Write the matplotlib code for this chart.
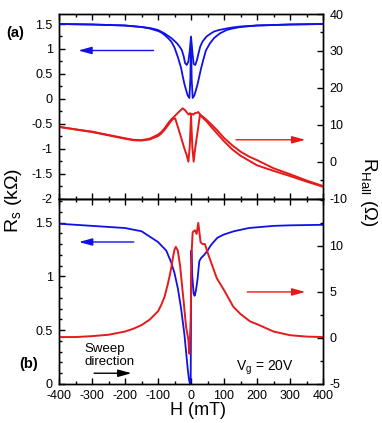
import matplotlib
matplotlib.use('Agg')
import matplotlib.pyplot as plt
from matplotlib.ticker import MultipleLocator

plt.rcParams['font.family'] = ['Liberation Sans', 'DejaVu Sans']
plt.rcParams['mathtext.default'] = 'regular'
plt.rcParams['axes.unicode_minus'] = False

BLUE = '#1010e8'
RED = '#e51a1a'

# ---- panel (a): R_s (kOhm, left) and R_Hall (Ohm, right), two sweep branches ----
h_a_blue1 = [-400, -300, -200, -150, -125, -100, -90, -80, -70, -60, -50, -40, -30, -25, -20, -15,
             -10, -5, -2, 0, 2, 5, 10, 15, 20, 25, 30, 37, 45, 57, 70, 87, 108, 125, 150, 200, 300, 400]
rs_a_blue1 = [1.50, 1.49, 1.47, 1.44, 1.41, 1.36, 1.33, 1.28, 1.22, 1.15, 1.03, 0.84, 0.62, 0.45, 0.30, 0.18,
              0.07, 0.02, 0.40, 1.22, 0.40, 0.02, 0.07, 0.18, 0.30, 0.45, 0.60, 0.78, 0.97, 1.11, 1.22, 1.31, 1.38, 1.41, 1.44, 1.47, 1.49, 1.50]

h_a_blue2 = [-400, -300, -200, -150, -125, -100, -80, -60, -50, -42, -35, -28, -22, -18, -13, -8, -4,
             0, 4, 8, 13, 18, 23, 28, 35, 47, 60, 70, 85, 108, 125, 150, 200, 300, 400]
rs_a_blue2 = [1.50, 1.49, 1.47, 1.44, 1.42, 1.38, 1.31, 1.22, 1.16, 1.11, 1.05, 0.98, 0.85, 0.72, 0.68, 0.75, 0.95,
              1.25, 0.95, 0.70, 0.68, 0.78, 0.92, 1.05, 1.15, 1.25, 1.31, 1.35, 1.38, 1.41, 1.43, 1.45, 1.47, 1.49, 1.50]

h_a_red1 = [-400, -350, -300, -250, -200, -175, -150, -125, -100, -90, -80, -70, -60, -55, -45, -35, -25,
            -18, -12, -7, -3, 0, 3, 7, 12, 18, 22, 28, 35, 47, 60, 80, 100, 125, 150, 175, 200, 250, 300, 350, 400]
rh_a_red1 = [9.5, 8.8, 8.2, 7.3, 6.4, 6.0, 5.9, 6.3, 7.4, 8.1, 9.1, 10.4, 11.5, 11.9, 12.8, 13.7, 14.5,
             14.0, 13.3, 12.8, 13.2, 12.8, 13.0, 12.8, 13.2, 13.3, 13.5, 12.8, 12.3, 11.4, 10.3, 8.5, 6.5, 4.5, 2.8, 1.5, 0.5, -1.7, -3.3, -5.0, -6.5]

h_a_red2 = [-400, -350, -300, -250, -200, -175, -150, -125, -100, -90, -80, -70, -60, -55, -48, -40, -30,
            -20, -14, -8, -4, 0, 4, 8, 12, 17, 22, 27, 35, 47, 60, 80, 100, 125, 150, 175, 200, 250, 300, 350, 400]
rh_a_red2 = [9.5, 8.8, 8.1, 7.2, 6.3, 5.9, 5.8, 6.1, 7.0, 7.7, 8.7, 9.9, 11.1, 11.6, 11.8, 9.5, 6.6,
             3.6, 2.1, 0.1, 4.0, 12.5, 4.0, 0.1, 3.2, 6.4, 9.5, 12.7, 12.0, 11.0, 9.6, 7.6, 5.6, 3.4, 1.7, 0.4, -0.9, -2.4, -3.8, -5.3, -6.7]

# ---- panel (b): single sweep, Vg = 20 V ----
h_b_blue = [-400, -300, -200, -150, -125, -100, -75, -60, -50, -40, -30, -20, -15, -10, -6, -3, -1,
            1, 4, 8, 11, 15, 20, 25, 30, 40, 50, 60, 80, 100, 130, 175, 250, 300, 400]
rs_b_blue = [1.49, 1.47, 1.45, 1.42, 1.37, 1.32, 1.24, 1.13, 1.03, 0.89, 0.70, 0.46, 0.30, 0.14, 0.04, 0.00, 0.02,
             1.24, 1.00, 0.84, 0.82, 0.87, 0.98, 1.14, 1.17, 1.20, 1.24, 1.29, 1.36, 1.39, 1.42, 1.45, 1.47, 1.475, 1.48]

h_b_red = [-400, -350, -300, -250, -200, -175, -150, -125, -100, -90, -80, -70, -65, -60, -55, -50, -46, -40,
           -33, -23, -15, -8, -5, -1, 2, 5, 12, 17, 22, 29, 35, 42, 52, 65, 78, 100, 128, 150, 179, 200, 250, 300, 350, 400]
rh_b_red = [0.1, 0.1, 0.2, 0.35, 0.7, 1.0, 1.4, 2.0, 2.9, 3.6, 4.5, 5.9, 6.7, 7.6, 8.7, 9.6, 9.9, 9.5,
            7.8, 4.2, 1.2, -0.2, -1.7, 2.0, 9.4, 11.5, 11.7, 11.3, 12.5, 10.4, 10.2, 10.2, 9.1, 7.8, 6.5, 5.2, 3.4, 2.6, 1.8, 1.5, 0.7, 0.3, 0.15, 0.1]

fig = plt.figure(figsize=(3.82, 4.23), dpi=100)
ax1 = fig.add_axes([0.1545, 0.5296, 0.6911, 0.4373])
ax2 = fig.add_axes([0.1545, 0.0922, 0.6911, 0.4374])
ax1r = ax1.twinx()
ax2r = ax2.twinx()

ax1.plot(h_a_blue1, rs_a_blue1, color=BLUE, lw=1.3)
ax1.plot(h_a_blue2, rs_a_blue2, color=BLUE, lw=1.3)
ax1r.plot(h_a_red1, rh_a_red1, color=RED, lw=1.4)
ax1r.plot(h_a_red2, rh_a_red2, color=RED, lw=1.4)

ax2.plot(h_b_blue, rs_b_blue, color=BLUE, lw=1.3)
ax2r.plot(h_b_red, rh_b_red, color=RED, lw=1.4)

for ax in (ax1, ax2):
    ax.set_xlim(-400, 400)
    ax.xaxis.set_major_locator(MultipleLocator(100))
    ax.xaxis.set_minor_locator(MultipleLocator(50))
    ax.tick_params(which='both', direction='in', top=True, right=False, labelsize=9, pad=4.5)
    ax.tick_params(which='major', length=4.5, width=1)
    ax.tick_params(which='minor', length=2.5, width=1)
for ax in (ax1r, ax2r):
    ax.tick_params(which='both', direction='in', labelsize=9, pad=4.5)
    ax.tick_params(which='major', length=4.5, width=1)
    ax.tick_params(which='minor', length=2.5, width=1)
for ax in (ax1, ax2, ax1r, ax2r):
    for s in ax.spines.values():
        s.set_linewidth(1.0)

ax1.set_ylim(-2, 1.7)
ax1.yaxis.set_minor_locator(MultipleLocator(0.25))
ax1.set_yticks([-2, -1.5, -1, -0.5, 0, 0.5, 1, 1.5])
ax1.set_yticklabels(['-2', '-1.5', '-1', '-0.5', '0', '0.5', '1', '1.5'])
ax1.tick_params(labelbottom=False)
ax1r.set_ylim(-10, 40)
ax1r.yaxis.set_major_locator(MultipleLocator(10))
ax1r.yaxis.set_minor_locator(MultipleLocator(5))

ax2.set_ylim(0, 1.72)
ax2.set_yticks([0, 0.5, 1, 1.5])
ax2.set_yticklabels(['0', '0.5', '1', '1.5'])
ax2.yaxis.set_minor_locator(MultipleLocator(0.1))
ax2r.set_ylim(-5, 15.1)
ax2r.set_yticks([-5, 0, 5, 10])
ax2r.yaxis.set_minor_locator(MultipleLocator(2.5))

# direction arrows
arr = '-|>,head_length=0.8,head_width=0.22'
ax1.annotate('', xy=(-350, 0.97), xytext=(-105, 0.97),
             arrowprops=dict(arrowstyle=arr, color=BLUE, lw=1.0))
ax1r.annotate('', xy=(355, 6), xytext=(128, 6),
              arrowprops=dict(arrowstyle=arr, color=RED, lw=1.0))
ax2.annotate('', xy=(-348, 1.32), xytext=(-165, 1.32),
             arrowprops=dict(arrowstyle=arr, color=BLUE, lw=1.0))
ax2r.annotate('', xy=(355, 5), xytext=(162, 5),
              arrowprops=dict(arrowstyle=arr, color=RED, lw=1.0))
ax2.annotate('', xy=(-172, 0.1), xytext=(-302, 0.1),
             arrowprops=dict(arrowstyle=arr, color='black', lw=1.0))
ax2.text(-322, 0.265, 'Sweep\ndirection', fontsize=9.5, ha='left', va='center', linespacing=1.1)
ax2r.text(137, -3.2, r'V$_g$ = 20V', fontsize=10, ha='left', va='center')

fig.text(15 / 382, 1 - 32.5 / 423, '(a)', fontsize=10.5, fontweight='bold', ha='center', va='center')
fig.text(28.5 / 382, 1 - 364 / 423, '(b)', fontsize=10.5, fontweight='bold', ha='center', va='center')

fig.text(14 / 382, 1 - 200 / 423, r'R$_s$ (kΩ)', fontsize=14, rotation=90, ha='center', va='center')
fig.text(368 / 382, 1 - 192 / 423, r'R$_{Hall}$ (Ω)', fontsize=13.5, rotation=270, ha='center', va='center')
fig.text(198 / 382, 1 - 410 / 423, 'H (mT)', fontsize=13, ha='center', va='center')

fig.savefig('out.png', dpi=100)
